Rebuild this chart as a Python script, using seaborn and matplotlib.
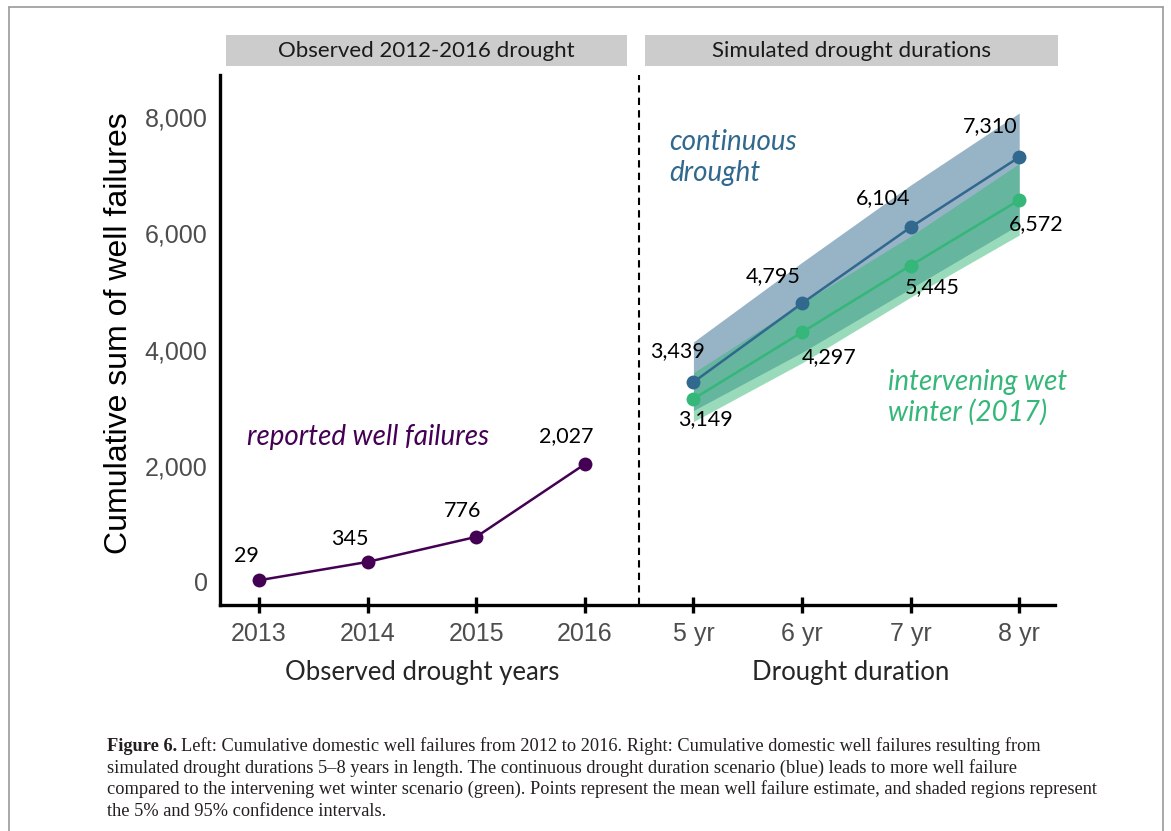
import pandas as pd
import seaborn as sns
import matplotlib.pyplot as plt
from matplotlib.lines import Line2D
from matplotlib.patches import Rectangle

# observed 2012-2016 drought
obs_years = ['2013', '2014', '2015', '2016']
obs_failures = [29, 345, 776, 2027]

# simulated drought durations (mean, 5% and 95%)
sim_durations = ['5 yr', '6 yr', '7 yr', '8 yr']
cont_mean = [3439, 4795, 6104, 7310]
cont_low = [2950, 3950, 5050, 6150]
cont_high = [4130, 5500, 6830, 8070]
wet_mean = [3149, 4297, 5445, 6572]
wet_low = [2760, 3770, 4900, 5970]
wet_high = [3600, 4800, 5950, 7200]

PURPLE = '#440154'
BLUE = '#31688e'
GREEN = '#35b779'

sns.set_theme(style="white")
plt.rcParams['font.family'] = ['Liberation Sans', 'DejaVu Sans']

labels = obs_years + sim_durations
pos = list(range(len(labels)))
df_obs = pd.DataFrame({'pos': pos[:4], 'val': obs_failures})
df_sim = pd.DataFrame({'pos': pos[4:], 'cont': cont_mean, 'cont_lo': cont_low, 'cont_hi': cont_high,
                       'wet': wet_mean, 'wet_lo': wet_low, 'wet_hi': wet_high})

fig = plt.figure(figsize=(11.71, 8.31), dpi=100)
ax = fig.add_axes([0.1879, 0.272, 0.901 - 0.1879, 0.9097 - 0.272])

# shaded 5-95% bands
ax.fill_between(df_sim['pos'], df_sim['cont_lo'], df_sim['cont_hi'], color=BLUE, alpha=0.5, lw=0)
ax.fill_between(df_sim['pos'], df_sim['wet_lo'], df_sim['wet_hi'], color=GREEN, alpha=0.5, lw=0)

sns.lineplot(data=df_obs, x='pos', y='val', color=PURPLE, marker='o', markersize=10,
             markeredgewidth=0, linewidth=1.8, ax=ax)
sns.lineplot(data=df_sim, x='pos', y='cont', color=BLUE, marker='o', markersize=10,
             markeredgewidth=0, linewidth=1.8, ax=ax)
sns.lineplot(data=df_sim, x='pos', y='wet', color=GREEN, marker='o', markersize=10,
             markeredgewidth=0, linewidth=1.8, ax=ax)

lab_font = dict(family='Lato', fontsize=15.5, color='black', ha='center', va='center')
px = 0.72
obs_off = [(-13, 24), (-18, 23), (-14, 26), (-19, 28)]
for x, v, o in zip(df_obs['pos'], obs_failures, obs_off):
    ax.annotate(f'{v:,}', (x, v), xytext=(o[0] * px, o[1] * px), textcoords='offset points', **lab_font)
cont_off = [(-16, 31), (-29, 27), (-28, 29), (-29, 31)]
for x, v, o in zip(df_sim['pos'], cont_mean, cont_off):
    ax.annotate(f'{v:,}', (x, v), xytext=(o[0] * px, o[1] * px), textcoords='offset points', **lab_font)
wet_off = [(12, -20), (27, -25), (22, -22), (17, -24)]
for x, v, o in zip(df_sim['pos'], wet_mean, wet_off):
    ax.annotate(f'{v:,}', (x, v), xytext=(o[0] * px, o[1] * px), textcoords='offset points', **lab_font)

# series annotations
ax.text(-0.11, 2494, 'reported well failures', family='Lato', style='italic', fontsize=20,
        color=PURPLE, ha='left', va='center')
ax.text(3.776, 7300, 'continuous\ndrought', family='Lato', style='italic', fontsize=20,
        color=BLUE, ha='left', va='center', linespacing=1.25)
ax.text(5.79, 3182, 'intervening wet\nwinter (2017)', family='Lato', style='italic', fontsize=20,
        color=GREEN, ha='left', va='center', linespacing=1.17)

# separator between observed and simulated
ax.axvline(3.5, color='black', lw=1.5, dashes=(3.5, 2.5))

ax.set_xlim(-0.359, 7.33)
ax.set_ylim(-396, 8723)
ax.set_xticks(pos)
ax.set_xticklabels(labels)
ax.set_yticks([0, 2000, 4000, 6000, 8000])
ax.set_yticklabels(['0', '2,000', '4,000', '6,000', '8,000'])
ax.tick_params(axis='x', direction='inout', length=11, width=2.4, color='black',
               labelsize=18, labelcolor='#4d4d4d', pad=6.5, bottom=True)
ax.tick_params(axis='y', length=0, labelsize=18, labelcolor='#4d4d4d', pad=9, left=True)
for s in ['top', 'right']:
    ax.spines[s].set_visible(False)
for s in ['left', 'bottom']:
    ax.spines[s].set_color('black')
    ax.spines[s].set_linewidth(2.4)
ax.set_xlabel('')
ax.set_ylabel('Cumulative sum of well failures', fontsize=23, color='black', labelpad=8)
ax.yaxis.label.set_y(0.513)

# x axis titles for each panel
ax.text(1.5, -0.128, 'Observed drought years', transform=ax.get_xaxis_transform(),
        family='Lato', fontsize=18.5, ha='center', va='center')
ax.text(5.45, -0.128, 'Drought duration', transform=ax.get_xaxis_transform(),
        family='Lato', fontsize=18.5, ha='center', va='center')

# facet strips
tr = ax.get_xaxis_transform()
for x0, x1, title in [(-0.304, 3.39, 'Observed 2012-2016 drought'),
                      (3.555, 7.36, 'Simulated drought durations')]:
    ax.add_patch(Rectangle((x0, 1.017), x1 - x0, 0.0585, transform=tr, clip_on=False,
                           facecolor='#cccccc', edgecolor='none'))
    ax.text((x0 + x1) / 2, 1.046, title, transform=tr, family='Lato', fontsize=16,
            ha='center', va='center', color='#1a1a1a')

# frame around figure
W, H = 1171, 831
for xs, ys in [([8.5, 8.5], [831, 6.5]), ([8.5, 1163], [6.5, 6.5]), ([1163, 1163], [6.5, 831])]:
    fig.add_artist(Line2D([x / W for x in xs], [1 - y / H for y in ys], color='#9a9a9a', lw=1.2))

# caption
cap_lines = ['Left: Cumulative domestic well failures from 2012 to 2016. Right: Cumulative domestic well failures resulting from',
             'simulated drought durations 5\u20138 years in length. The continuous drought duration scenario (blue) leads to more well failure',
             'compared to the intervening wet winter scenario (green). Points represent the mean well failure estimate, and shaded regions represent',
             'the 5% and 95% confidence intervals.']
cap_font = dict(family='Liberation Serif', fontsize=13.2, color='#231f20', va='baseline')
renderer = fig.canvas.get_renderer()
bold = fig.text(107 / W, 1 - 751 / H, 'Figure 6.', fontweight='bold', **cap_font)
bb = bold.get_window_extent(renderer=renderer)
fig.text((bb.x1 + 4) / W, 1 - 751 / H, cap_lines[0], **cap_font)
for i, line in enumerate(cap_lines[1:], start=1):
    fig.text(107 / W, 1 - (751 + 21.5 * i) / H, line, **cap_font)

fig.savefig('out.png', dpi=100)
